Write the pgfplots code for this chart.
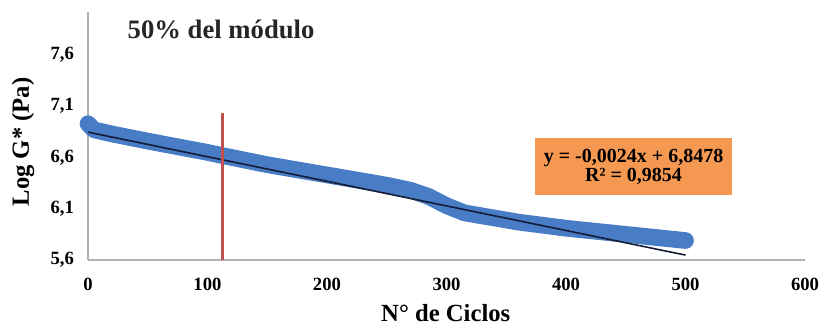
\documentclass[border=0pt]{standalone}
\usepackage{pgfplots}
\pgfplotsset{compat=1.18}
\usepackage{fontspec}
\setmainfont{Liberation Serif}
\definecolor{bandblue}{RGB}{72,125,198}
\definecolor{fitorange}{RGB}{244,152,82}
\definecolor{cutred}{RGB}{192,80,77}
\definecolor{fitline}{RGB}{20,28,55}

\begin{document}
\begin{tikzpicture}
\begin{axis}[
  scale only axis, width=537.75pt, height=186pt,
  xmin=0, xmax=600, ymin=5.6, ymax=8.02,
  axis x line=bottom, axis y line=left,
  axis line style={-, draw=black!30, line width=0.8pt},
  xtick={0,100,...,600},
  ytick={5.6,6.1,6.6,7.1,7.6},
  yticklabels={{5,6},{6,1},{6,6},{7,1},{7,6}},
  major tick length=0pt,
  /pgf/number format/assume math mode=true,
  tick label style={font=\bfseries\fontsize{14}{14}\selectfont},
  xticklabel style={yshift=-10pt},
  yticklabel style={xshift=-7pt},
  xlabel={N° de Ciclos}, ylabel={Log G* (Pa)},
  label style={font=\bfseries\fontsize{18.5}{18.5}\selectfont},
  xlabel style={at={(axis description cs:0.499,-0.2137)}, anchor=center},
  ylabel style={at={(axis description cs:-0.0907,0.476)}, anchor=center},
  clip=false,
]
% measured modulus (thick band)
\addplot[bandblue, line width=12.5pt, line join=round, line cap=round] coordinates {
  (0,6.93) (5,6.87) (20,6.83) (50,6.76) (100,6.65) (112,6.62) (150,6.53)
  (200,6.43) (250,6.33) (270,6.28) (285,6.22) (300,6.13) (315,6.06)
  (330,6.03) (360,5.97) (400,5.91) (450,5.85) (500,5.79)
};
% linear fit
\addplot[fitline, line width=1.2pt] coordinates {(0,6.8478) (500,5.6478)};
% 50% modulus cycle
\addplot[cutred, line width=2.2pt] coordinates {(112.5,5.6) (112.5,7.03)};

\node[anchor=west, font=\bfseries\fontsize{20}{20}\selectfont, text=black!85]
  at (axis cs:29.3,7.85) {50\% del módulo};
\node[fill=fitorange, minimum width=147.75pt, minimum height=42.75pt, align=center,
  inner sep=1pt, font=\bfseries\fontsize{15}{13}\selectfont]
  at (axis cs:456.5,6.51) {y = -0,0024x + 6,8478\\R² = 0,9854};
\end{axis}
\pgfresetboundingbox
\path ([xshift=-66pt,yshift=-52.5pt]current axis.south west)
  rectangle ([xshift=11.25pt,yshift=9pt]current axis.north east);
\end{tikzpicture}
\end{document}
